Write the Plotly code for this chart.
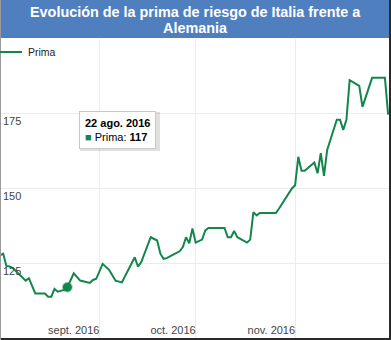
import plotly.graph_objects as go

# ---- data ----
dates = [
    "2016-08-01", "2016-08-02", "2016-08-03", "2016-08-04", "2016-08-05", "2016-08-07",
    "2016-08-09", "2016-08-10", "2016-08-11", "2016-08-12", "2016-08-15", "2016-08-16",
    "2016-08-17", "2016-08-18", "2016-08-19", "2016-08-21", "2016-08-22", "2016-08-24",
    "2016-08-26", "2016-08-29", "2016-08-30", "2016-08-31", "2016-09-02", "2016-09-04",
    "2016-09-06", "2016-09-08", "2016-09-12", "2016-09-13", "2016-09-14", "2016-09-17",
    "2016-09-19", "2016-09-20", "2016-09-21", "2016-09-22", "2016-09-24", "2016-09-26",
    "2016-09-27", "2016-09-28", "2016-09-29", "2016-09-30", "2016-10-01", "2016-10-03",
    "2016-10-04", "2016-10-05", "2016-10-10", "2016-10-11", "2016-10-12", "2016-10-13",
    "2016-10-14", "2016-10-17", "2016-10-18", "2016-10-19", "2016-10-20", "2016-10-21",
    "2016-10-26", "2016-10-27", "2016-10-31", "2016-11-01", "2016-11-02", "2016-11-03",
    "2016-11-04", "2016-11-07", "2016-11-08", "2016-11-09", "2016-11-10", "2016-11-11",
    "2016-11-14", "2016-11-15", "2016-11-16", "2016-11-17", "2016-11-18", "2016-11-21",
    "2016-11-22", "2016-11-25", "2016-11-29", "2016-11-30",
]
prima = [
    127.6, 128.2, 124.1, 123.9, 123.4, 121.4,
    119.2, 120.0, 117.5, 114.9, 114.9, 113.8,
    113.8, 116.4, 115.5, 116.1, 117.0, 121.6,
    119.2, 118.4, 119.4, 119.8, 124.8, 122.8,
    119.2, 118.6, 127.0, 123.9, 125.3, 133.7,
    132.6, 128.2, 126.5, 126.7, 127.9, 129.0,
    130.4, 133.7, 131.7, 136.6, 131.9, 132.9,
    136.0, 136.8, 136.8, 133.7, 133.7, 135.8,
    133.7, 131.9, 132.9, 142.1, 141.0, 141.8,
    141.8, 143.3, 150.0, 151.1, 160.6, 155.9,
    155.9, 158.7, 155.1, 161.8, 154.2, 162.9,
    173.0, 173.0, 169.6, 173.0, 186.2, 184.3,
    177.3, 187.0, 187.0, 174.7,
]
series_name = "Prima"
title_lines = ["Evolución de la prima de riesgo de Italia frente a", "Alemania"]
x_tick_dates = ["2016-09-01", "2016-10-01", "2016-11-01"]
x_tick_labels = ["sept. 2016", "oct. 2016", "nov. 2016"]
y_ticks = [125, 150, 175]
month_abbr = ["ene.", "feb.", "mar.", "abr.", "may.", "jun.", "jul.", "ago.", "sept.", "oct.", "nov.", "dic."]
hover_date = "2016-08-22"

# ---- styling ----
LINE = "#13864c"
W, H = 391, 340
ML, MR, MT, MB = 0, 1, 39, 2
PW, PH = W - ML - MR, H - MT - MB


def py(px):  # pixel y (from top) -> paper y
    return (H - MB - px) / PH


def pxx(px):  # pixel x -> paper x
    return (px - ML) / PW


fig = go.Figure()
fig.add_trace(go.Scatter(
    x=dates, y=prima, mode="lines", name=series_name,
    line=dict(color=LINE, width=2), showlegend=False, hoverinfo="skip",
))

hi = dates.index(hover_date)
fig.add_trace(go.Scatter(
    x=[dates[hi]], y=[prima[hi]], mode="markers", showlegend=False, hoverinfo="skip",
    marker=dict(color=LINE, size=9, line=dict(color="rgba(19,134,76,0.35)", width=2)),
))

shapes = [
    # tooltip shadow
    dict(type="rect", xref="paper", yref="paper", x0=pxx(80), x1=pxx(160),
         y0=py(151), y1=py(112), fillcolor="rgba(0,0,0,0.12)", line=dict(width=0), layer="above"),
    # title banner
    dict(type="rect", xref="paper", yref="paper", x0=pxx(-2), x1=pxx(W + 2),
         y0=py(38), y1=py(-2), fillcolor="#4f7fbf", line=dict(width=0), layer="above"),
    # frame
    dict(type="line", xref="paper", yref="paper", x0=pxx(W - 1), x1=pxx(W - 1),
         y0=py(-2), y1=py(H + 2), line=dict(color="#2a2a2a", width=2), layer="above"),
    dict(type="line", xref="paper", yref="paper", x0=pxx(-2), x1=pxx(W + 2),
         y0=py(H - 1), y1=py(H - 1), line=dict(color="#2a2a2a", width=2), layer="above"),
    dict(type="line", xref="paper", yref="paper", x0=pxx(0.5), x1=pxx(0.5),
         y0=py(0), y1=py(H), line=dict(color="#9a9a9a", width=1), layer="above"),
    # legend swatch
    dict(type="line", xref="paper", yref="paper", x0=pxx(0), x1=pxx(22),
         y0=py(52), y1=py(52), line=dict(color=LINE, width=2), layer="above"),
]

d = dates[hi]
date_label = f"{int(d[8:10])} {month_abbr[int(d[5:7]) - 1]} {d[:4]}"
tooltip = (f"<b>{date_label}</b><br>"
           f"<span style='color:{LINE}'>■</span> {series_name}: <b>{round(prima[hi])}</b>")

annotations = [
    dict(text=f"<b>{title_lines[0]}</b>", xref="paper", yref="paper", x=pxx(195), y=py(12),
         xanchor="center", yanchor="middle", showarrow=False,
         font=dict(family="Liberation Sans, Arial", size=14.4, color="white")),
    dict(text=f"<b>{title_lines[1]}</b>", xref="paper", yref="paper", x=pxx(195), y=py(28),
         xanchor="center", yanchor="middle", showarrow=False,
         font=dict(family="Liberation Sans, Arial", size=14.4, color="white")),
    dict(text=series_name, xref="paper", yref="paper", x=pxx(26), y=py(52),
         xanchor="left", yanchor="middle", showarrow=False,
         font=dict(family="Liberation Sans, Arial", size=10.5, color="#222222")),
    dict(text=tooltip, xref="paper", yref="paper", x=pxx(79), y=py(111),
         xanchor="left", yanchor="top", showarrow=False, align="left",
         bgcolor="white", bordercolor="#c8c8c8", borderwidth=1, borderpad=5,
         font=dict(family="Liberation Sans, Arial", size=11, color="#000000")),
]

fig.update_layout(
    width=W, height=H,
    margin=dict(l=ML, r=MR, t=MT, b=MB, pad=0),
    paper_bgcolor="white", plot_bgcolor="white",
    font=dict(family="Liberation Sans, Arial", size=11, color="#444444"),
    xaxis=dict(
        type="date", range=["2016-08-01", "2016-11-30 14:00"],
        tickvals=x_tick_dates, ticktext=x_tick_labels,
        ticklabelposition="inside left", ticks="", ticklabelstandoff=-4,
        showgrid=True, gridcolor="#ececec", gridwidth=1,
        zeroline=False, showline=False, fixedrange=True,
        tickfont=dict(size=11, color="#444444"),
    ),
    yaxis=dict(
        range=[100, 200], tickvals=y_ticks,
        ticklabelposition="inside bottom", ticks="",
        showgrid=True, gridcolor="#ececec", gridwidth=1,
        zeroline=False, showline=False, fixedrange=True,
        tickfont=dict(size=11, color="#444444"),
    ),
    shapes=shapes,
    annotations=annotations,
    showlegend=False,
)

fig.write_html("out.html", config={"displayModeBar": False, "staticPlot": True})
